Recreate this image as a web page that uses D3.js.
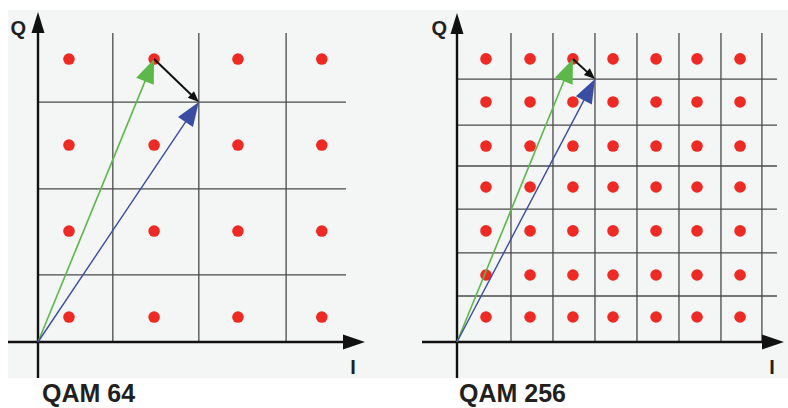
<!DOCTYPE html>
<html>
<head>
<meta charset="utf-8">
<script src="https://cdn.jsdelivr.net/npm/d3@7"></script>
<style>
  body { margin:0; background:#fff; }
  #vis_container { width:788px; height:408px; }
  text { font-family:"Liberation Sans", Arial, sans-serif; font-weight:bold; fill:#231f20; }
</style>
</head>
<body>
<div id="vis_container"></div>
<script>
// constellation levels (I and Q), decision boundaries and the two vectors
var qam64Title = "QAM 64";
var qam64LevelsI = [0.72, 2.70, 4.65, 6.60];
var qam64LevelsQ = [0.58, 2.58, 4.58, 6.58];
var qam64BoundsI = [1.74, 3.74, 5.77];
var qam64BoundsQ = [1.56, 3.56, 5.58];
var qam64Sent = [2.70, 6.58];
var qam64Received = [3.74, 5.58];

var qam256Title = "QAM 256";
var qam256LevelsI = [1.38, 3.48, 5.52, 7.43, 9.48, 11.43, 13.48];
var qam256LevelsQ = [1.19, 3.19, 5.29, 7.38, 9.33, 11.43, 13.48];
var qam256BoundsI = [2.57, 4.57, 6.57, 8.57, 10.57, 12.57, 14.52];
var qam256BoundsQ = [2.19, 4.24, 6.33, 8.38, 10.33, 12.52];
var qam256Sent = [5.52, 13.48];
var qam256Received = [6.57, 12.52];

var chart = {};
chart.width = 788;
chart.height = 408;

chart.svg = d3.select("#vis_container").append("svg")
	.attr("width", chart.width)
	.attr("height", chart.height);

chart.svg.append("rect")
	.attr("x", 8)
	.attr("y", 10)
	.attr("width", chart.width - 8)
	.attr("height", 368)
	.attr("fill", "#f4f5f5");

var panels = [
	{title:qam64Title, li:qam64LevelsI, lq:qam64LevelsQ, bi:qam64BoundsI, bq:qam64BoundsQ,
	 sent:qam64Sent, recv:qam64Received,
	 ox:38, oy:342, unit:43, gridRight:346, gridTop:33, axLeft:8, axRight:365, axTop:12, axBottom:378,
	 qx:26, ix:353, tx:42},
	{title:qam256Title, li:qam256LevelsI, lq:qam256LevelsQ, bi:qam256BoundsI, bq:qam256BoundsQ,
	 sent:qam256Sent, recv:qam256Received,
	 ox:457, oy:342, unit:21, gridRight:777, gridTop:33, axLeft:422, axRight:784, axTop:13, axBottom:378,
	 qx:447, ix:772, tx:459}
];

// line with filled triangular head, tip exactly on the end point
function arrow(g, x1, y1, x2, y2, color, width, len, half) {
	var dx = x2 - x1, dy = y2 - y1;
	var d = Math.sqrt(dx*dx + dy*dy);
	var ux = dx / d, uy = dy / d;
	var bx = x2 - ux*len, by = y2 - uy*len;
	g.append("line")
		.attr("x1", x1).attr("y1", y1)
		.attr("x2", x2 - ux*len*0.6).attr("y2", y2 - uy*len*0.6)
		.attr("stroke", color)
		.attr("stroke-width", width);
	g.append("polygon")
		.attr("points", [[x2, y2], [bx - uy*half, by + ux*half], [bx + uy*half, by - ux*half]].join(" "))
		.attr("fill", color);
}

panels.forEach(function(p) {
	var g = chart.svg.append("g");
	var x = d3.scaleLinear().domain([0, 1]).range([p.ox, p.ox + p.unit]);
	var y = d3.scaleLinear().domain([0, 1]).range([p.oy, p.oy - p.unit]);

	// decision grid
	g.selectAll(".vgrid").data(p.bi).enter().append("line")
		.attr("x1", function(d) { return x(d); })
		.attr("x2", function(d) { return x(d); })
		.attr("y1", p.oy)
		.attr("y2", p.gridTop)
		.attr("stroke", "#4a4a4a")
		.attr("stroke-width", 1.3);
	g.selectAll(".hgrid").data(p.bq).enter().append("line")
		.attr("x1", p.ox)
		.attr("x2", p.gridRight)
		.attr("y1", function(d) { return y(d); })
		.attr("y2", function(d) { return y(d); })
		.attr("stroke", "#4a4a4a")
		.attr("stroke-width", 1.3);

	// constellation points
	var pts = [];
	p.lq.forEach(function(q) { p.li.forEach(function(i) { pts.push([i, q]); }); });
	g.selectAll(".pt").data(pts).enter().append("circle")
		.attr("cx", function(d) { return x(d[0]); })
		.attr("cy", function(d) { return y(d[1]); })
		.attr("r", 5.8)
		.attr("fill", "#ee2a25");

	// axes
	arrow(g, p.axLeft, p.oy, p.axRight, p.oy, "#111", 2.4, 22, 7.5);
	arrow(g, p.ox, p.axBottom, p.ox, p.axTop, "#111", 2.4, 21, 6.5);

	// vectors
	arrow(g, x(0), y(0), x(p.sent[0]), y(p.sent[1]), "#5cb84a", 1.6, 24, 9.5);
	arrow(g, x(0), y(0), x(p.recv[0]), y(p.recv[1]), "#3a4da2", 1.4, 24, 9);
	arrow(g, x(p.sent[0]), y(p.sent[1]), x(p.recv[0]), y(p.recv[1]), "#111", 2, 11, 4.5);

	// labels
	g.append("text").attr("x", p.qx).attr("y", 35).attr("text-anchor", "end")
		.style("font-size", "20px").text("Q");
	g.append("text").attr("x", p.ix).attr("y", 374).attr("text-anchor", "middle")
		.style("font-size", "20px").text("I");
	g.append("text").attr("x", p.tx).attr("y", 402)
		.style("font-size", "25px").text(p.title);
});
</script>
</body>
</html>
